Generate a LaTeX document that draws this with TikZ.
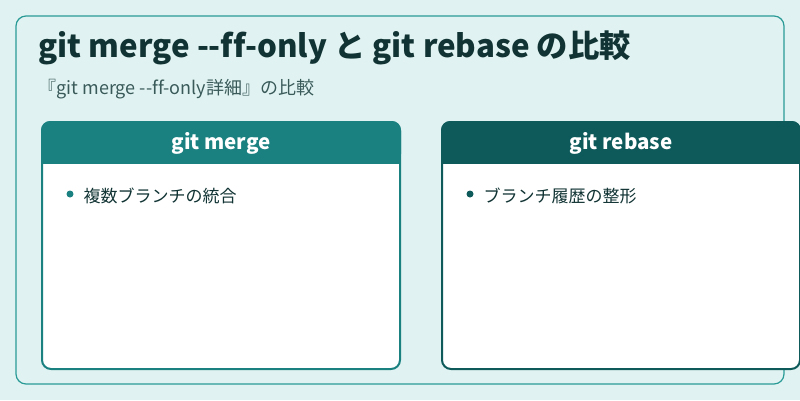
\documentclass[tikz,border=0pt]{standalone}
\usepackage{fontspec}
\newfontfamily\jpfont{Noto Sans CJK JP}[Ligatures=NoCommon]
\definecolor{bgcol}{HTML}{E0F3F2}
\definecolor{framecol}{HTML}{2A9A96}
\definecolor{mergecol}{HTML}{1A8080}
\definecolor{rebasecol}{HTML}{0E5A5A}
\definecolor{titlecol}{HTML}{113333}
\definecolor{subcol}{HTML}{3A5A5A}
\begin{document}
\begin{tikzpicture}[x=1pt,y=-1pt,
   cardbox/.style={draw=#1,line width=2pt,fill=white,rounded corners=9pt},
   cardhead/.style={fill=#1,rounded corners=9pt},
   headtext/.style={text=white,font=\jpfont\fontsize{20.5}{24}\selectfont\bfseries},
   itemtext/.style={anchor=west,text=titlecol,font=\jpfont\fontsize{17}{20}\selectfont},
   dot/.style={circle,fill=#1,inner sep=0pt,minimum size=7pt}]
\fill[bgcol] (0,0) rectangle (800,400);
\useasboundingbox (0,0) rectangle (800,400);
\draw[framecol,line width=1.2pt,rounded corners=10pt] (16,16) rectangle (784,384);
\node[anchor=west,text=titlecol,font=\jpfont\fontsize{31.3}{36}\selectfont\bfseries] (title) at (35,48) {git merge --ff-only と git rebase の比較};
\node[anchor=west,text=subcol,font=\jpfont\fontsize{18}{21}\selectfont] (sub) at (35,89) {『git merge --ff-only詳細』の比較};
% left card
\draw[cardbox=mergecol] (42,122) rectangle (400,369);
\fill[cardhead=mergecol] (41,121) rectangle (401,163);
\fill[mergecol] (41,150) rectangle (401,164);
\node[headtext] (mergehead) at (221,143) {git merge};
\node[dot=mergecol] (mergedot) at (70,194) {};
\node[itemtext] (mergeitem) at (80,196) {複数ブランチの統合};
% right card
\draw[cardbox=rebasecol] (442,122) rectangle (800,369);
\fill[cardhead=rebasecol] (441,121) rectangle (801,163);
\fill[rebasecol] (441,150) rectangle (801,164);
\node[headtext] (rebasehead) at (621,143) {git rebase};
\node[dot=rebasecol] (rebasedot) at (470,194) {};
\node[itemtext] (rebaseitem) at (480,196) {ブランチ履歴の整形};
\end{tikzpicture}
\end{document}
